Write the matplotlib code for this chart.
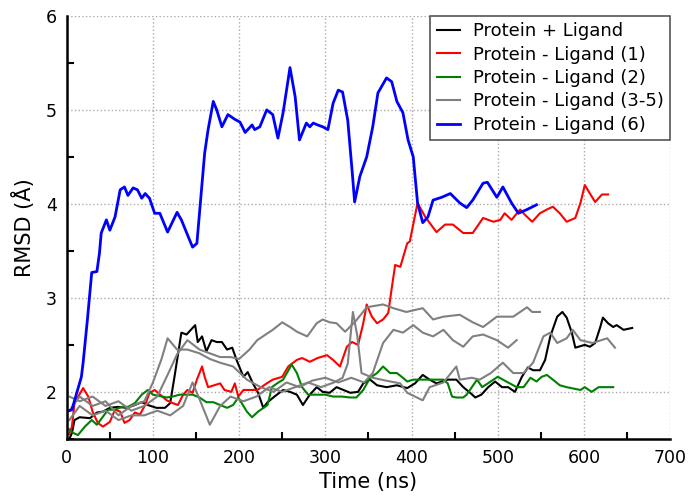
import matplotlib
matplotlib.use("Agg")
import matplotlib.pyplot as plt
from matplotlib.ticker import MultipleLocator

# RMSD traces (time in ns, RMSD in Angstrom)
black_t = [3, 6, 9, 15, 27, 35, 42, 50, 59, 70, 79, 87, 94, 104, 114, 120, 125, 133, 139, 149, 152, 157,
           162, 168, 174, 180, 186, 192, 197, 205, 210, 216, 222, 228, 233, 241, 251, 259, 267, 274, 282,
           290, 297, 305, 313, 329, 338, 344, 352, 360, 371, 383, 395, 404, 413, 421, 429, 442, 452, 460,
           468, 474, 481, 489, 497, 505, 512, 520, 528, 535, 541, 549, 555, 561, 569, 575, 580, 586, 590,
           601, 607, 613, 619, 622, 628, 634, 638, 646, 656]
black_y = [1.5, 1.56, 1.7, 1.73, 1.72, 1.78, 1.79, 1.83, 1.84, 1.83, 1.86, 1.89, 1.86, 1.83, 1.83, 1.88,
           2.16, 2.63, 2.61, 2.71, 2.53, 2.59, 2.43, 2.55, 2.53, 2.53, 2.45, 2.47, 2.34, 2.16, 2.21, 2.09,
           1.99, 1.83, 1.89, 1.95, 2.02, 2.0, 1.97, 1.86, 1.97, 2.05, 2.0, 1.99, 2.05, 1.99, 2.0, 2.09, 2.13,
           2.07, 2.05, 2.07, 2.04, 2.09, 2.18, 2.13, 2.09, 2.13, 2.13, 2.05, 1.99, 1.94, 1.97, 2.05, 2.11,
           2.05, 2.05, 2.0, 2.16, 2.26, 2.23, 2.23, 2.34, 2.59, 2.8, 2.85, 2.79, 2.63, 2.47, 2.5, 2.48, 2.52,
           2.69, 2.79, 2.73, 2.69, 2.71, 2.66, 2.68]

red_t = [3, 6, 9, 19, 25, 30, 36, 42, 50, 56, 62, 67, 73, 79, 85, 91, 96, 102, 116, 123, 129, 135, 140,
         146, 151, 157, 160, 164, 178, 183, 191, 195, 199, 205, 221, 232, 239, 250, 257, 267, 273, 282,
         291, 302, 309, 317, 325, 331, 338, 344, 348, 354, 360, 367, 373, 377, 381, 387, 395, 398, 407,
         416, 429, 439, 448, 460, 471, 483, 495, 503, 508, 516, 526, 532, 540, 549, 557, 564, 572, 580,
         590, 596, 601, 607, 613, 621, 628]
red_y = [1.55, 1.63, 1.88, 2.04, 1.95, 1.79, 1.67, 1.63, 1.68, 1.81, 1.79, 1.67, 1.7, 1.78, 1.76, 1.86,
         1.99, 2.02, 1.91, 1.88, 1.86, 1.97, 2.02, 1.99, 2.13, 2.27, 2.16, 2.05, 2.09, 2.02, 2.0, 2.09, 1.95,
         2.02, 2.02, 2.09, 2.13, 2.16, 2.27, 2.34, 2.36, 2.32, 2.36, 2.39, 2.34, 2.27, 2.48, 2.53, 2.5, 2.73,
         2.93, 2.8, 2.73, 2.77, 2.84, 3.1, 3.35, 3.33, 3.58, 3.6, 4.01, 3.86, 3.7, 3.78, 3.78, 3.69, 3.69,
         3.85, 3.81, 3.83, 3.9, 3.83, 3.94, 3.88, 3.81, 3.9, 3.94, 3.97, 3.9, 3.81, 3.85, 4.01, 4.2, 4.11,
         4.02, 4.1, 4.1]

green_t = [3, 6, 13, 21, 29, 35, 48, 56, 64, 71, 79, 87, 94, 100, 116, 123, 131, 146, 154, 162, 170, 178,
           186, 193, 199, 209, 215, 222, 230, 233, 238, 244, 251, 261, 267, 273, 280, 290, 300, 309, 319,
           329, 336, 344, 352, 360, 367, 375, 383, 390, 395, 402, 418, 437, 442, 447, 452, 460, 464, 470,
           476, 482, 495, 500, 506, 514, 522, 530, 538, 545, 551, 557, 564, 572, 580, 596, 601, 609, 617,
           627, 634]
green_y = [1.6, 1.57, 1.54, 1.63, 1.7, 1.65, 1.81, 1.81, 1.84, 1.84, 1.88, 1.97, 2.02, 1.97, 1.94, 1.95,
           1.97, 1.97, 1.94, 1.89, 1.89, 1.86, 1.83, 1.86, 1.94, 1.79, 1.73, 1.79, 1.84, 1.86, 2.05, 2.09,
           2.13, 2.29, 2.2, 2.05, 1.97, 1.97, 1.97, 1.95, 1.95, 1.94, 1.94, 2.02, 2.15, 2.2, 2.27, 2.2, 2.2,
           2.15, 2.11, 2.13, 2.13, 2.13, 2.09, 1.95, 1.94, 1.94, 1.97, 2.05, 2.13, 2.05, 2.13, 2.16, 2.13,
           2.09, 2.05, 2.05, 2.15, 2.11, 2.16, 2.18, 2.13, 2.07, 2.05, 2.02, 2.05, 2.0, 2.05, 2.05, 2.05]

grayA_t = [3, 15, 30, 45, 60, 75, 90, 105, 118, 128, 140, 154, 166, 178, 190, 200, 212, 221, 239, 250, 259,
           267, 279, 290, 297, 305, 313, 323, 335, 348, 367, 379, 394, 413, 425, 437, 456, 471, 483, 499,
           518, 534, 540, 549]
grayA_y = [1.95, 1.9, 1.95, 1.85, 1.9, 1.8, 1.85, 1.95, 2.2, 2.4, 2.55, 2.45, 2.41, 2.37, 2.37, 2.35, 2.45,
           2.55, 2.66, 2.74, 2.69, 2.64, 2.59, 2.73, 2.77, 2.74, 2.73, 2.64, 2.75, 2.9, 2.93, 2.89, 2.85,
           2.89, 2.77, 2.8, 2.82, 2.74, 2.69, 2.8, 2.8, 2.9, 2.85, 2.85]

grayB_t = [3, 15, 30, 45, 60, 75, 90, 100, 110, 117, 128, 140, 154, 166, 178, 193, 209, 225, 240, 255, 270,
           285, 300, 315, 330, 345, 355, 367, 379, 390, 402, 413, 425, 437, 448, 460, 471, 483, 499, 512, 522]
grayB_y = [1.8, 1.95, 1.85, 1.9, 1.75, 1.85, 1.9, 2.1, 2.35, 2.57, 2.45, 2.45, 2.41, 2.35, 2.31, 2.27, 2.13,
           2.05, 2.0, 2.1, 2.05, 2.12, 2.15, 2.1, 2.15, 2.1, 2.2, 2.52, 2.66, 2.63, 2.71, 2.63, 2.59, 2.66,
           2.55, 2.48, 2.59, 2.61, 2.55, 2.47, 2.55]

grayC_t = [3, 15, 30, 45, 60, 75, 90, 105, 120, 135, 146, 155, 166, 178, 190, 205, 220, 235, 250, 265, 280,
           295, 310, 320, 326, 332, 337, 342, 355, 370, 387, 395, 413, 421, 437, 452, 456, 470, 479, 492,
           506, 518, 530, 541, 553, 561, 569, 580, 587, 596, 610, 627, 636]
grayC_y = [1.7, 1.85, 1.75, 1.8, 1.7, 1.75, 1.75, 1.8, 1.75, 1.85, 2.1, 1.9, 1.65, 1.85, 1.95, 1.9, 1.95,
           2.05, 2.0, 2.05, 2.1, 2.05, 2.1, 2.15, 2.3, 2.85, 2.6, 2.2, 2.15, 2.12, 2.09, 1.99, 1.91, 2.05,
           2.1, 2.27, 2.13, 2.15, 2.13, 2.2, 2.31, 2.2, 2.2, 2.31, 2.59, 2.63, 2.52, 2.57, 2.66, 2.55, 2.52,
           2.57, 2.47]

blue_t = [3, 6, 17, 19, 24, 29, 35, 38, 40, 46, 50, 56, 62, 67, 71, 77, 82, 87, 91, 96, 102, 108, 117, 128,
          133, 141, 146, 151, 154, 160, 164, 170, 174, 180, 187, 195, 201, 207, 215, 218, 224, 232, 239,
          245, 251, 259, 265, 270, 278, 282, 286, 291, 297, 303, 309, 315, 320, 326, 331, 334, 340, 348,
          355, 361, 371, 377, 383, 390, 396, 402, 407, 413, 419, 425, 435, 445, 456, 464, 471, 483, 488,
          499, 506, 516, 524, 534, 545]
blue_y = [1.8, 1.81, 2.16, 2.31, 2.77, 3.27, 3.28, 3.48, 3.69, 3.83, 3.72, 3.86, 4.15, 4.18, 4.09, 4.17,
          4.15, 4.06, 4.11, 4.06, 3.9, 3.9, 3.7, 3.91, 3.83, 3.65, 3.54, 3.58, 3.9, 4.54, 4.79, 5.09, 5.0,
          4.82, 4.95, 4.9, 4.87, 4.76, 4.84, 4.79, 4.82, 5.0, 4.95, 4.7, 4.97, 5.45, 5.14, 4.68, 4.86, 4.82,
          4.86, 4.84, 4.82, 4.79, 5.07, 5.21, 5.19, 4.89, 4.36, 4.02, 4.29, 4.5, 4.82, 5.18, 5.34, 5.3,
          5.09, 4.97, 4.68, 4.5, 4.01, 3.8, 3.86, 4.04, 4.07, 4.11, 4.01, 3.96, 4.04, 4.22, 4.23, 4.07,
          4.18, 4.01, 3.9, 3.94, 3.99]

fig = plt.figure(figsize=(6.88, 4.97), dpi=100)
ax = fig.add_axes([0.097, 0.117, 0.877, 0.851])

ax.plot(black_t, black_y, color="black", lw=1.5, label="Protein + Ligand")
ax.plot(red_t, red_y, color="red", lw=1.5, label="Protein - Ligand (1)")
ax.plot(green_t, green_y, color="green", lw=1.5, label="Protein - Ligand (2)")
ax.plot(grayA_t, grayA_y, color="gray", lw=1.5, label="Protein - Ligand (3-5)")
ax.plot(grayB_t, grayB_y, color="gray", lw=1.5)
ax.plot(grayC_t, grayC_y, color="gray", lw=1.5)
ax.plot(blue_t, blue_y, color="blue", lw=2, label="Protein - Ligand (6)")

ax.set_xlim(0, 700)
ax.set_ylim(1.5, 6)
ax.xaxis.set_major_locator(MultipleLocator(100))
ax.xaxis.set_minor_locator(MultipleLocator(50))
ax.yaxis.set_major_locator(MultipleLocator(1))
ax.yaxis.set_minor_locator(MultipleLocator(0.5))
ax.tick_params(which="major", length=0, labelsize=12.5, pad=7)
ax.tick_params(which="minor", direction="in", length=5, width=1.5)

ax.grid(True, which="major", linestyle=":", color="#aaaaaa", lw=1)
for s in ["top", "right"]:
    ax.spines[s].set_visible(False)
for s in ["left", "bottom"]:
    ax.spines[s].set_linewidth(1.8)

ax.set_xlabel("Time (ns)", fontsize=15, labelpad=4)
ax.set_ylabel("RMSD (Å)", fontsize=15, labelpad=8)

leg = ax.legend(loc="upper right", bbox_to_anchor=(1.0, 1.0), borderaxespad=0, fontsize=13,
                fancybox=False, framealpha=1, edgecolor="#555555", handlelength=1.3,
                handletextpad=0.7, labelspacing=0.3, borderpad=0.35)
leg.get_frame().set_linewidth(1.2)

fig.savefig("out.png", dpi=100)
